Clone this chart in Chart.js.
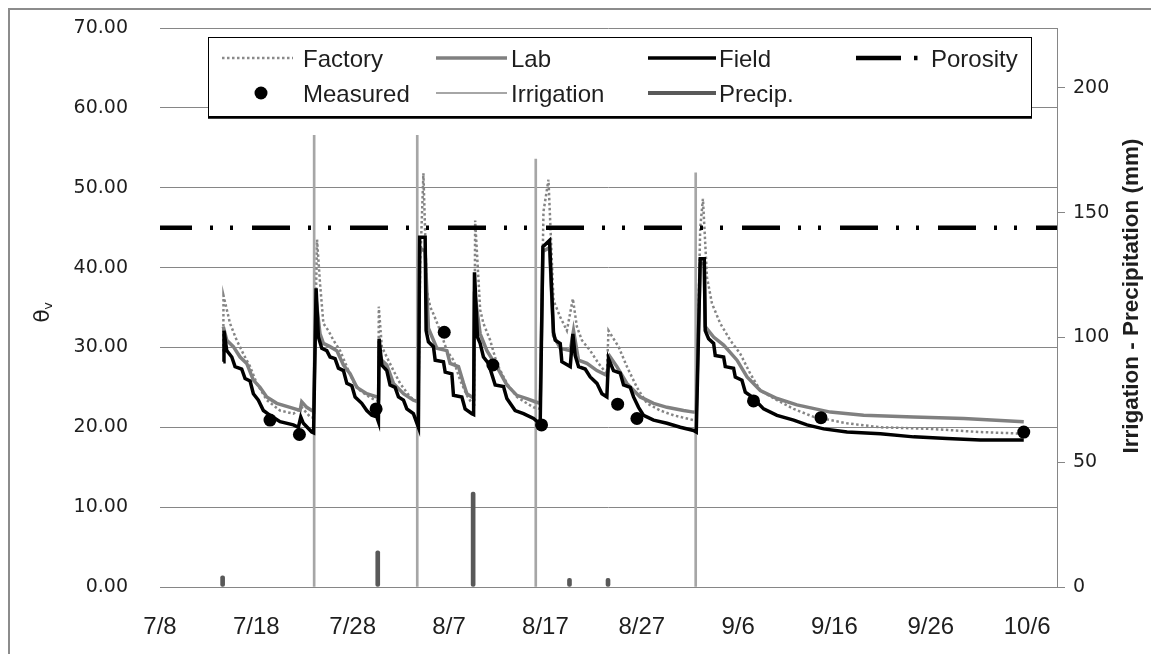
<!DOCTYPE html>
<html>
<head>
<meta charset="utf-8">
<script src="https://cdn.jsdelivr.net/npm/chart.js@4.4.1/dist/chart.umd.min.js"></script>
<style>
  html, body { margin: 0; padding: 0; background: #fff; }
  canvas { display: block; }
</style>
</head>
<body>
<canvas id="moisture-chart" width="1151" height="654"></canvas>
<script>
/* data: x = days after 7/8, y = volumetric water content */
const dateLabels = ['7/8', '7/18', '7/28', '8/7', '8/17', '8/27', '9/6', '9/16', '9/26', '10/6'];
const mmTicks = [0, 50, 100, 150, 200];

const factory = [
    [6.57, 29.5], [6.59, 36.5], [7.27, 33.0], [7.96, 30.9], [8.65, 29.2], [9.35, 27.6], [10.04, 25.5],
    [11.08, 23.4], [12.46, 22.1], [13.84, 21.7], [14.71, 22.5], [15.58, 21.3], [15.94, 21.2],
    [16.3, 43.5], [16.61, 38.0], [16.96, 33.0], [17.48, 32.1], [18.0, 30.9], [18.69, 29.6], [19.39, 27.6],
    [20.07, 25.7], [20.77, 24.6], [21.46, 24.0], [22.33, 23.4], [22.67, 23.3],
    [22.71, 35.1], [23.02, 30.1], [23.54, 28.8], [24.23, 27.1], [24.92, 25.5], [25.96, 23.8], [26.66, 23.2], [26.82, 23.0],
    [27.0, 40.0], [27.34, 51.8], [27.69, 37.2], [28.04, 35.1], [28.38, 34.2], [29.08, 32.1], [29.77, 29.6],
    [30.46, 28.4], [31.15, 25.9], [31.85, 24.0], [32.37, 23.0], [32.61, 22.9],
    [32.71, 45.9], [33.23, 34.7], [33.57, 33.0], [34.27, 30.9], [34.96, 28.0], [36.0, 25.5], [37.04, 23.8],
    [38.07, 23.0], [38.77, 22.5], [39.46, 22.3],
    [39.8, 47.0], [40.32, 51.0], [40.84, 35.9], [41.54, 33.8], [42.23, 32.1], [42.85, 36.1], [43.27, 32.6],
    [43.79, 30.9], [44.65, 29.6], [45.51, 28.0], [46.38, 26.7], [46.55, 32.1], [47.59, 30.1], [48.46, 27.6],
    [49.5, 25.0], [50.54, 23.0], [51.92, 22.1], [53.3, 21.5], [54.69, 21.1], [55.38, 20.9], [55.66, 20.9],
    [56.07, 45.0], [56.35, 48.6], [56.77, 38.8], [57.29, 35.5], [58.15, 33.0], [59.19, 30.9], [60.23, 29.2],
    [61.27, 26.7], [62.31, 24.6], [64.04, 23.4], [65.77, 22.3], [67.84, 21.3], [71.31, 20.5], [74.77, 20.0],
    [79.96, 19.8], [85.15, 19.4], [89.65, 19.2]
];

const lab = [
    [6.57, 32.6], [6.93, 30.9], [7.61, 30.1], [8.31, 28.8], [9.0, 28.0], [9.69, 25.9], [10.38, 25.0],
    [11.08, 23.8], [12.12, 23.0], [13.5, 22.5], [14.54, 22.1], [14.71, 23.2], [15.23, 22.5], [15.75, 22.1], [15.94, 22.0],
    [16.2, 36.0], [16.61, 31.7], [16.96, 30.5], [17.65, 30.1], [18.35, 29.6], [19.04, 27.8], [19.73, 26.7],
    [20.43, 25.0], [21.46, 24.2], [22.5, 23.8], [22.69, 23.7],
    [22.74, 29.5], [23.02, 28.4], [23.54, 27.8], [24.23, 25.5], [25.27, 24.2], [26.3, 23.4], [26.79, 23.2],
    [26.95, 42.5], [27.52, 42.0], [27.86, 32.4], [28.73, 29.9], [29.77, 29.6], [30.11, 28.0], [30.98, 27.6],
    [31.5, 25.5], [31.85, 24.2], [32.37, 23.8], [32.55, 23.7],
    [32.64, 37.0], [33.23, 31.7], [33.93, 29.6], [34.96, 27.6], [36.0, 25.3], [37.04, 24.0], [38.07, 23.6],
    [38.94, 23.2], [39.46, 23.0],
    [39.74, 42.0], [40.43, 42.5], [40.84, 31.5], [41.54, 29.9], [42.58, 29.6], [42.92, 32.1], [43.44, 28.4],
    [44.31, 28.0], [45.35, 27.1], [46.38, 26.5], [46.73, 28.8], [47.42, 27.6], [48.46, 25.5], [49.84, 23.8],
    [51.23, 23.0], [52.62, 22.5], [54.34, 22.1], [55.38, 21.9], [55.66, 21.9],
    [56.07, 40.5], [56.49, 40.5], [56.59, 32.6], [57.46, 31.3], [58.5, 30.3], [59.89, 28.4], [60.93, 26.3],
    [62.31, 24.6], [64.04, 23.6], [66.11, 22.8], [69.57, 21.9], [73.03, 21.5], [78.22, 21.3], [83.42, 21.1],
    [89.65, 20.7]
];

const field = [
    [6.57, 28.2], [6.64, 32.1], [6.93, 29.6], [7.45, 28.8], [7.79, 27.6], [8.48, 27.3], [8.83, 26.1],
    [9.35, 25.8], [9.69, 24.2], [10.21, 23.4], [10.73, 22.1], [11.42, 21.5], [12.46, 20.7], [13.84, 20.3],
    [14.36, 20.0], [14.61, 21.3], [14.88, 20.5], [15.75, 19.4], [15.94, 19.3],
    [16.2, 37.4], [16.44, 31.3], [16.79, 29.9], [17.31, 29.6], [17.65, 28.8], [18.17, 28.6], [18.52, 27.4],
    [19.04, 27.1], [19.39, 25.5], [19.91, 25.2], [20.25, 23.8], [20.94, 23.0], [21.46, 22.1], [21.98, 21.5],
    [22.5, 21.3], [22.67, 20.7],
    [22.74, 31.1], [23.02, 27.8], [23.54, 27.1], [23.88, 25.3], [24.4, 25.0], [24.75, 23.8], [25.27, 23.4],
    [25.62, 22.3], [26.3, 21.7], [26.82, 20.0],
    [26.95, 43.8], [27.52, 43.8], [27.62, 32.1], [27.86, 30.7], [28.38, 30.1], [28.56, 28.4], [29.42, 28.2],
    [29.6, 26.9], [30.29, 26.7], [30.46, 24.0], [31.33, 23.8], [31.67, 22.3], [32.37, 21.7], [32.55, 21.6],
    [32.64, 39.4], [32.95, 31.3], [33.23, 30.5], [33.57, 28.8], [34.09, 28.0], [34.79, 25.3], [35.65, 25.1],
    [36.0, 23.6], [36.86, 22.1], [37.73, 21.7], [38.77, 21.1], [39.46, 20.4],
    [39.74, 42.6], [40.43, 43.4], [40.68, 36.3], [40.84, 31.9], [41.02, 30.9], [41.54, 30.5], [41.71, 28.2],
    [42.58, 27.6], [42.85, 31.7], [43.09, 29.0], [43.44, 27.6], [44.13, 27.3], [44.65, 26.3], [45.35, 25.5],
    [45.87, 24.2], [46.38, 23.8], [46.55, 28.6], [47.07, 27.1], [47.77, 26.8], [48.11, 25.3], [48.81, 25.0],
    [49.15, 23.8], [49.67, 22.5], [50.19, 21.5], [51.23, 20.9], [52.62, 20.5], [54.0, 20.0], [55.38, 19.6],
    [55.66, 19.4],
    [56.07, 41.1], [56.49, 41.1], [56.59, 32.1], [56.94, 31.1], [57.46, 30.5], [57.63, 29.0], [58.5, 28.8],
    [58.67, 27.6], [59.53, 27.4], [59.71, 26.3], [60.4, 25.9], [60.75, 24.4], [61.44, 23.8], [62.65, 22.3],
    [64.04, 21.5], [65.77, 20.9], [67.15, 20.3], [68.88, 19.8], [71.31, 19.4], [74.77, 19.2], [78.22, 18.8],
    [81.69, 18.6], [85.15, 18.4], [89.65, 18.4]
];

const porosity = [[0, 45], [93.1, 45]];

const measured = [
    [11.42, 20.9], [14.47, 19.1], [22.43, 22.3], [29.5, 31.9], [34.55, 27.8], [39.6, 20.3],
    [47.5, 22.9], [49.5, 21.1], [61.6, 23.3], [68.6, 21.2], [89.65, 19.4]
];

/* right axis, mm */
const irrigationDays = [16.0, 26.7, 39.0, 55.6];
const irrigationMm = [181, 181, 171.5, 166];
const precipDays = [6.5, 22.6, 32.5, 42.5, 46.5];
const precipMm = [4.5, 14.5, 38, 3.5, 3.5];
/**/

const GRID = '#868686';
const TEXT = '#1e1e1e';
const POROSITY_DASH = [38, 18, 3, 17, 3, 19];

function toPoints(pairs) {
    return pairs.map(p => ({x: p[0], y: p[1]}));
}

function toBars(days, values) {
    return days.map((d, i) => ({x: d, y: values[i]}));
}

function drawLegend(ctx) {
    ctx.save();
    ctx.fillStyle = '#fff';
    ctx.fillRect(208, 37, 824, 80);
    ctx.strokeStyle = '#000';
    ctx.lineWidth = 1;
    ctx.strokeRect(208.5, 37.5, 823, 79);
    ctx.lineWidth = 2.5;
    ctx.beginPath();
    ctx.moveTo(208, 117.5);
    ctx.lineTo(1032, 117.5);
    ctx.stroke();

    const row1 = 58, row2 = 93;
    function sample(x1, x2, y, color, width, dash) {
        ctx.beginPath();
        ctx.setLineDash(dash || []);
        ctx.strokeStyle = color;
        ctx.lineWidth = width;
        ctx.moveTo(x1, y);
        ctx.lineTo(x2, y);
        ctx.stroke();
        ctx.setLineDash([]);
    }
    sample(222, 293, row1, '#8a8a8a', 2.5, [2.5, 2.5]);
    sample(436, 507, row1, '#808080', 3.5);
    sample(648, 716, row1, '#000', 3.5);
    sample(856, 901, row1, '#000', 4.5);
    sample(914, 917.5, row1, '#000', 4.5);
    sample(436, 507, row2, '#a6a6a6', 2);
    sample(648, 716, row2, '#595959', 4);
    ctx.fillStyle = '#000';
    ctx.beginPath();
    ctx.arc(261, row2, 6.5, 0, Math.PI * 2);
    ctx.fill();

    ctx.font = '24px "Liberation Sans", Arial, sans-serif';
    ctx.fillStyle = TEXT;
    ctx.textBaseline = 'alphabetic';
    ctx.textAlign = 'left';
    ctx.fillText('Factory', 303, row1 + 8.5);
    ctx.fillText('Lab', 511, row1 + 8.5);
    ctx.fillText('Field', 719, row1 + 8.5);
    ctx.fillText('Porosity', 931, row1 + 8.5);
    ctx.fillText('Measured', 303, row2 + 8.5);
    ctx.fillText('Irrigation', 511, row2 + 8.5);
    ctx.fillText('Precip.', 719, row2 + 8.5);
    ctx.restore();
}

function drawTitles(ctx) {
    ctx.save();
    ctx.fillStyle = TEXT;
    ctx.translate(49, 316);
    ctx.rotate(-Math.PI / 2);
    ctx.textBaseline = 'alphabetic';
    ctx.textAlign = 'center';
    ctx.font = '22px "DejaVu Sans", sans-serif';
    ctx.fillText('θ', 0, 0);
    ctx.font = '13px "DejaVu Sans", sans-serif';
    ctx.fillText('v', 10, 3);
    ctx.restore();

    ctx.save();
    ctx.fillStyle = TEXT;
    ctx.translate(1132, 296);
    ctx.rotate(-Math.PI / 2);
    ctx.textAlign = 'center';
    ctx.textBaseline = 'middle';
    ctx.font = 'bold 22.5px "Liberation Sans", Arial, sans-serif';
    ctx.fillText('Irrigation - Precipitation (mm)', 0, 0);
    ctx.restore();
}

const framePlugin = {
    id: 'frame',
    beforeDraw(chart) {
        const ctx = chart.ctx;
        ctx.save();
        ctx.fillStyle = '#fff';
        ctx.fillRect(0, 0, chart.width, chart.height);
        ctx.strokeStyle = '#8c8c8c';
        ctx.lineWidth = 2;
        ctx.strokeRect(9, 9, chart.width + 20, chart.height + 20);
        ctx.restore();
    },
    afterDraw(chart) {
        drawLegend(chart.ctx);
        drawTitles(chart.ctx);
    }
};

function fixVertical(width) {
    return s => {
        s.width = width;
        s.paddingTop = 0;
        s.paddingBottom = 0;
    };
}

window.onload = function() {
    const canvas = document.getElementById('moisture-chart');

    new Chart(canvas, {
        type: 'scatter',
        data: {
            datasets: [
                {
                    label: 'Measured',
                    data: toPoints(measured),
                    showLine: false,
                    pointRadius: 6.5,
                    pointBackgroundColor: '#000',
                    pointBorderWidth: 0,
                    order: 0
                },
                {
                    label: 'Porosity',
                    data: toPoints(porosity),
                    showLine: true,
                    borderColor: '#000',
                    borderWidth: 4.5,
                    borderDash: POROSITY_DASH,
                    borderDashOffset: 6,
                    borderCapStyle: 'butt',
                    pointRadius: 0,
                    order: 1
                },
                {
                    label: 'Field',
                    data: toPoints(field),
                    showLine: true,
                    borderColor: '#000',
                    borderWidth: 3.5,
                    pointRadius: 0,
                    order: 2
                },
                {
                    label: 'Lab',
                    data: toPoints(lab),
                    showLine: true,
                    borderColor: '#808080',
                    borderWidth: 3.5,
                    pointRadius: 0,
                    order: 3
                },
                {
                    label: 'Factory',
                    data: toPoints(factory),
                    showLine: true,
                    borderColor: '#858585',
                    borderWidth: 2.5,
                    borderDash: [2.5, 2.5],
                    pointRadius: 0,
                    order: 4
                },
                {
                    type: 'bar',
                    label: 'Precip.',
                    data: toBars(precipDays, precipMm),
                    yAxisID: 'y2',
                    backgroundColor: '#595959',
                    barThickness: 4,
                    borderRadius: 2,
                    borderSkipped: false,
                    grouped: false,
                    order: 5
                },
                {
                    type: 'bar',
                    label: 'Irrigation',
                    data: toBars(irrigationDays, irrigationMm),
                    yAxisID: 'y2',
                    backgroundColor: '#a6a6a6',
                    barThickness: 2,
                    grouped: false,
                    order: 6
                }
            ]
        },
        options: {
            responsive: false,
            animation: false,
            events: [],
            layout: {padding: {top: 28, left: 0, right: 0, bottom: 0}},
            plugins: {
                legend: {display: false},
                tooltip: {enabled: false}
            },
            scales: {
                x: {
                    type: 'linear',
                    min: 0,
                    max: 93.1,
                    offset: false,
                    grid: {display: false, drawTicks: false, offset: false},
                    border: {display: true, color: GRID, width: 1},
                    afterBuildTicks: s => { s.ticks = dateLabels.map((_, i) => ({value: i * 10})); },
                    afterFit: s => { s.height = 67; s.paddingLeft = 0; s.paddingRight = 0; },
                    ticks: {
                        autoSkip: false,
                        maxRotation: 0,
                        padding: 26,
                        color: TEXT,
                        font: {family: '"Liberation Sans", Arial, sans-serif', size: 24},
                        callback: v => dateLabels[Math.round(v / 10)]
                    }
                },
                y: {
                    min: 0,
                    max: 70,
                    grid: {color: GRID, lineWidth: 1, drawTicks: false},
                    border: {display: false},
                    afterFit: fixVertical(160),
                    ticks: {
                        stepSize: 10,
                        padding: 32,
                        color: TEXT,
                        font: {family: '"DejaVu Sans", sans-serif', size: 19},
                        callback: v => v.toFixed(2)
                    }
                },
                y2: {
                    type: 'linear',
                    position: 'right',
                    min: 0,
                    max: 224,
                    grid: {display: true, drawOnChartArea: false, drawTicks: true, tickLength: 8, color: GRID},
                    border: {display: true, color: GRID, width: 1},
                    afterBuildTicks: s => { s.ticks = mmTicks.map(v => ({value: v})); },
                    afterFit: fixVertical(94),
                    ticks: {
                        padding: 8,
                        color: TEXT,
                        font: {family: '"DejaVu Sans", sans-serif', size: 19}
                    }
                }
            }
        },
        plugins: [framePlugin]
    });
};
</script>
</body>
</html>
